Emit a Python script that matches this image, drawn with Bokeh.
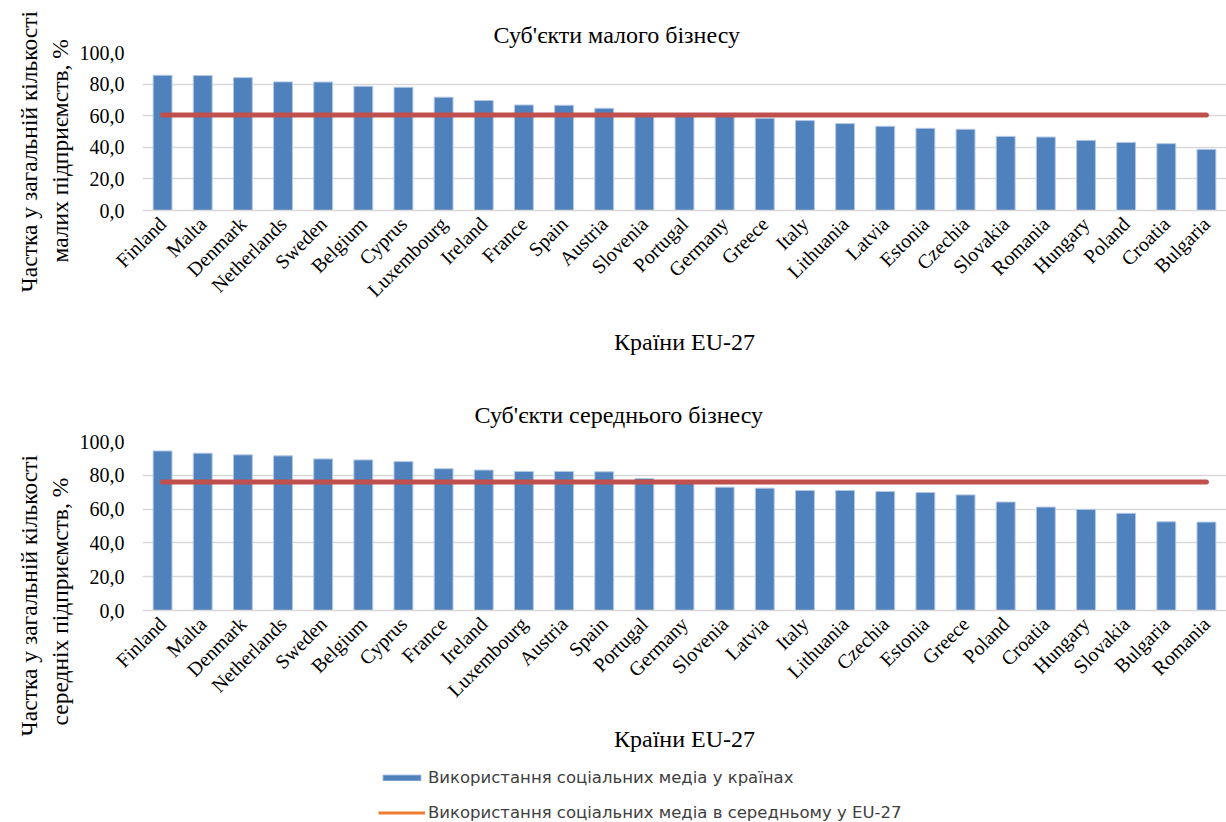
import math
from bokeh.plotting import figure
from bokeh.models import (FactorRange, Range1d, FixedTicker, Legend,
                          LegendItem, ColumnDataSource, Title)
from bokeh.layouts import column
from bokeh.embed import file_html
from bokeh.resources import INLINE

# ---------------- data ----------------
countries_small = ["Finland", "Malta", "Denmark", "Netherlands", "Sweden", "Belgium",
                   "Cyprus", "Luxembourg", "Ireland", "France", "Spain", "Austria",
                   "Slovenia", "Portugal", "Germany", "Greece", "Italy", "Lithuania",
                   "Latvia", "Estonia", "Czechia", "Slovakia", "Romania", "Hungary",
                   "Poland", "Croatia", "Bulgaria"]
share_small = [85.6, 85.4, 84.1, 81.4, 81.3, 78.6, 78.0, 71.7, 69.6, 66.8, 66.6, 64.7,
               61.0, 60.6, 60.0, 58.4, 56.9, 55.0, 53.3, 52.0, 51.4, 46.9, 46.5, 44.4,
               43.1, 42.3, 38.7]
avg_small = 60.4

countries_medium = ["Finland", "Malta", "Denmark", "Netherlands", "Sweden", "Belgium",
                    "Cyprus", "France", "Ireland", "Luxembourg", "Austria", "Spain",
                    "Portugal", "Germany", "Slovenia", "Latvia", "Italy", "Lithuania",
                    "Czechia", "Estonia", "Greece", "Poland", "Croatia", "Hungary",
                    "Slovakia", "Bulgaria", "Romania"]
share_medium = [94.4, 93.1, 92.1, 91.5, 89.7, 89.1, 88.1, 83.9, 83.1, 82.3, 82.3, 82.1,
                78.1, 75.5, 73.0, 72.4, 71.0, 71.0, 70.4, 69.8, 68.4, 64.2, 61.2, 59.8,
                57.5, 52.5, 52.3]
avg_medium = 76.1

y_ticks = [0, 20, 40, 60, 80, 100]
y_tick_labels = ["0,0", "20,0", "40,0", "60,0", "80,0", "100,0"]

title_small = "Суб'єкти малого бізнесу"
title_medium = "Суб'єкти середнього бізнесу"
ylabel_small = ["Частка у загальній кількості", "малих підприємств, %"]
ylabel_medium = ["Частка у загальній кількості", "середніх підприємств, %"]
xlabel = "Країни EU-27"
legend_bar = "Використання соціальних медіа у країнах"
legend_line = "Використання соціальних медіа в середньому у EU-27"

# ---------------- style ----------------
SERIF = "Liberation Serif"
BAR = "#4F81BD"
BAR_EDGE = "#b4c8e4"
LINE = "#C0504D"
LEG_LINE = "#ED7D31"
GRID = "#d9d9d9"
TOTAL_W = 1226
FRAME_LEFT = 142


def side_title(text, offset, standoff):
    return Title(text=text, align="left", offset=offset, standoff=standoff,
                 vertical_align="middle", text_font=SERIF, text_font_size="23.5px",
                 text_font_style="normal", text_color="black")


def make_chart(countries, shares, avg, title, title_offset, ylabels, ylabel_offsets,
               height, border_top, border_bottom, xlabel_standoff, title_standoff):
    src = ColumnDataSource(dict(country=countries, share=shares,
                                avg=[avg] * len(countries)))
    p = figure(width=TOTAL_W, height=height,
               x_range=FactorRange(*countries, range_padding=0),
               y_range=Range1d(0, 100), toolbar_location=None, output_backend="svg",
               min_border_left=FRAME_LEFT, min_border_right=0, min_border_top=border_top,
               min_border_bottom=border_bottom)
    p.title = Title(text=title, align="left", offset=title_offset, standoff=title_standoff,
                    text_font=SERIF, text_font_size="24px", text_font_style="normal",
                    text_color="black")
    p.outline_line_color = None
    p.xgrid.grid_line_color = None
    p.ygrid.grid_line_color = GRID
    p.ygrid.grid_line_width = 1.5
    p.ygrid.ticker = FixedTicker(ticks=y_ticks)

    p.vbar(x="country", top="share", width=0.47, source=src, fill_color=BAR,
           line_color=BAR_EDGE, line_width=1)
    p.line(x="country", y="avg", source=src, line_color=LINE, line_width=5,
           line_cap="round")

    ya = p.yaxis[0]
    ya.ticker = FixedTicker(ticks=y_ticks)
    ya.major_label_overrides = {t: l for t, l in zip(y_ticks, y_tick_labels)}
    ya.axis_line_color = None
    ya.major_tick_line_color = None
    ya.minor_tick_line_color = None
    ya.major_label_standoff = 12
    ya.major_label_text_font = SERIF
    ya.major_label_text_font_size = "20px"
    ya.major_label_text_color = "black"

    # two-line vertical axis title: inner line first, outer line second
    p.add_layout(side_title(ylabels[1], ylabel_offsets[1], 6), "left")
    p.add_layout(side_title(ylabels[0], ylabel_offsets[0], 0), "left")

    xa = p.xaxis[0]
    xa.axis_line_color = GRID
    xa.axis_line_width = 1.5
    xa.major_tick_line_color = None
    xa.major_label_orientation = math.pi / 4
    xa.major_label_standoff = 4
    xa.major_label_text_font = SERIF
    xa.major_label_text_font_size = "20px"
    xa.major_label_text_color = "black"
    xa.axis_label = xlabel
    xa.axis_label_standoff = xlabel_standoff
    xa.axis_label_text_font = SERIF
    xa.axis_label_text_font_size = "24px"
    xa.axis_label_text_font_style = "normal"
    xa.axis_label_text_color = "black"
    return p


top = make_chart(countries_small, share_small, avg_small, title_small, 351, ylabel_small,
                 (-82, -52), 378, 52, 168, 17, 10)
bottom = make_chart(countries_medium, share_medium, avg_medium, title_medium, 332,
                    ylabel_medium, (-126, -115), 380, 63, 148, 14, 27)

# ---------------- legend ----------------
lg = figure(width=TOTAL_W, height=64, x_range=Range1d(0, 1), y_range=Range1d(0, 1),
            toolbar_location=None, output_backend="svg", min_border=0,
            min_border_left=FRAME_LEFT, x_axis_location=None, y_axis_location=None)
lg.outline_line_color = None
lg.grid.visible = False
# legend-only renderers, kept outside the visible range
r_bar = lg.vbar(x=[-5], top=[-5], bottom=[-6], width=0.5, fill_color=BAR,
                line_color="#7aa0d0")
r_line = lg.line(x=[-6, -5], y=[-5, -5], line_color=LEG_LINE, line_width=3)
legend = Legend(items=[LegendItem(label=legend_bar, renderers=[r_bar]),
                       LegendItem(label=legend_line, renderers=[r_line])],
                location=(378 - FRAME_LEFT, 0), orientation="vertical",
                border_line_color=None, background_fill_alpha=0, padding=0, margin=0,
                spacing=15, label_height=20, glyph_height=7, glyph_width=47,
                label_standoff=3, label_text_font="DejaVu Sans",
                label_text_font_size="16.5px", label_text_color="#404040")
lg.add_layout(legend)

layout = column(top, bottom, lg, spacing=0)
open("out.html", "w").write(file_html(layout, INLINE))
